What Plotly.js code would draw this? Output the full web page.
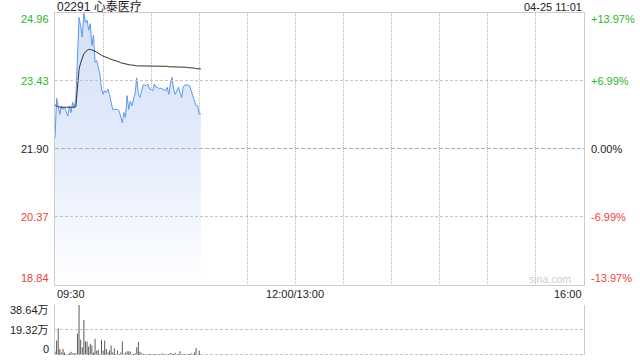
<!DOCTYPE html>
<html>
<head>
<meta charset="utf-8">
<script src="https://cdn.plot.ly/plotly-3.0.1.min.js"></script>
<style>
  html, body { margin: 0; padding: 0; background: #fff; }
  #chart { width: 640px; height: 360px; }
</style>
</head>
<body>
<div id="chart"></div>
<script>
// Intraday minute data for 02291 (09:30 onward), prices in HKD, volume in 万 shares
const stockTitle = '02291 心泰医疗';
const stamp = '04-25 11:01';
const preClose = 21.90;

const price = [
  22.15, 23.04, 22.87, 22.68, 22.87, 22.79, 22.83, 22.72, 22.64, 22.87,
  22.72, 22.95, 22.83, 23.02, 24.20, 24.86, 24.67, 24.42, 24.96, 24.74,
  24.80, 24.57, 24.72, 24.23, 24.46, 23.85, 23.89, 23.70, 23.59, 23.25,
  23.13, 23.21, 23.17, 23.25, 23.13, 22.95, 22.79, 22.79, 22.79, 22.79,
  22.76, 22.64, 22.49, 22.72, 22.61, 23.10, 22.79, 22.98, 22.87, 23.02,
  23.16, 23.50, 23.13, 23.06, 23.21, 23.34, 23.34, 23.32, 23.36, 23.25,
  23.25, 23.21, 23.36, 23.29, 23.29, 23.25, 23.27, 23.25, 23.23, 23.21,
  23.29, 23.13, 23.36, 23.51, 23.25, 23.13, 23.21, 23.29, 23.17, 23.06,
  23.30, 23.34, 23.34, 23.34, 23.32, 23.21, 23.13, 22.98, 22.87, 22.87,
  22.68, 22.70
];

const avgPrice = [
  22.89, 22.86, 22.85, 22.84, 22.84, 22.83, 22.83, 22.83, 22.83, 22.83,
  22.83, 22.83, 22.84, 22.85, 23.30, 23.69, 23.84, 23.96, 24.04, 24.09,
  24.12, 24.14, 24.14, 24.13, 24.12, 24.10, 24.08, 24.05, 24.03, 24.01,
  23.99, 23.98, 23.97, 23.95, 23.93, 23.92, 23.91, 23.90, 23.89, 23.88,
  23.86, 23.84, 23.83, 23.82, 23.81, 23.80, 23.80, 23.79, 23.79, 23.78,
  23.78, 23.77, 23.77, 23.77, 23.77, 23.77, 23.77, 23.77, 23.77, 23.77,
  23.77, 23.76, 23.76, 23.76, 23.76, 23.76, 23.76, 23.76, 23.76, 23.76,
  23.76, 23.75, 23.75, 23.75, 23.75, 23.75, 23.75, 23.74, 23.74, 23.74,
  23.74, 23.74, 23.74, 23.73, 23.73, 23.73, 23.73, 23.72, 23.71, 23.71,
  23.70, 23.70
];

const volume = [
  2.6, 11.3, 20.5, 4.7, 2.0, 4.7, 2.0, 0.8, 0.8, 1.3,
  2.6, 1.3, 1.3, 1.3, 16.6, 38.64, 11.8, 6.0, 27.0, 10.5,
  10.5, 6.6, 8.7, 7.4, 2.0, 12.6, 3.4, 4.0, 0.8, 11.8,
  3.4, 11.3, 4.7, 2.0, 3.4, 7.4, 2.0, 5.3, 0.8, 3.4,
  0.8, 2.0, 10.5, 0.8, 2.0, 2.9, 2.9, 2.6, 0.8, 0.8,
  1.3, 6.0, 10.0, 2.6, 1.3, 0.8, 0.4, 0.8, 0.4, 0.8,
  0.6, 0.8, 0.8, 0.6, 0.8, 0.8, 0.6, 1.3, 0.8, 0.8,
  0.6, 0.8, 1.3, 1.3, 0.8, 1.8, 0.8, 0.8, 2.9, 0.8,
  0.6, 0.8, 0.8, 0.8, 0.8, 1.3, 0.6, 2.0, 5.5, 0.8,
  3.4, 0.8
];

// Price axis ticks (left) and matching percent change labels (right)
const priceTicks = [24.96, 23.43, 21.90, 20.37, 18.84];
const pctLabels = ['+13.97%', '+6.99%', '0.00%', '-6.99%', '-13.97%'];
const volTicks = [38.64, 19.32, 0];
const volLabels = ['38.64万', '19.32万', '0'];
// Session timeline in minutes: 09:30–12:00 and 13:00–16:00 joined (330 min)
const timeTicks = [0, 150, 330];
const timeLabels = ['09:30', '12:00/13:00', '16:00'];

const minutes = price.map((_, i) => i);

const GREEN = '#2db52d', RED = '#f2403a', BLACK = '#222';
const FONT = 'Liberation Sans, Arial, Noto Sans CJK SC, sans-serif';
const GRID = '#b8b8b8';
const HGRID = '#c4c4c4';
const HDASH = '3px,2px';

const W = 640, H = 360;
// panel edges on whole pixels so every price level lands on a whole pixel
const xDom = [55 / W, 584 / W];
const yDom = [1 - 285 / H, 1 - 13 / H];
const y2Dom = [1 - 355 / H, 1 - 305 / H];

function tickColor(v) {
  if (v > preClose + 1e-9) return GREEN;
  if (v < preClose - 1e-9) return RED;
  return BLACK;
}

const traces = [
  {
    x: minutes, y: price, type: 'scatter', mode: 'lines',
    line: { color: '#5b97f2', width: 1 },
    fill: 'tozeroy',
    fillgradient: {
      type: 'vertical',
      start: priceTicks[4], stop: priceTicks[0],
      colorscale: [[0, 'rgba(255,255,255,1)'], [0.5, '#e4ecfb'], [1, '#d4e1f8']]
    },
    hoverinfo: 'skip'
  },
  {
    x: minutes, y: avgPrice, type: 'scatter', mode: 'lines',
    line: { color: '#333333', width: 1 }, hoverinfo: 'skip'
  },
  {
    x: minutes, y: volume, type: 'bar', xaxis: 'x2', yaxis: 'y2',
    marker: { color: '#555555', line: { width: 0 } }, width: 0.6, hoverinfo: 'skip'
  }
];

const annotations = [];
// title and timestamp
annotations.push({ xref: 'paper', yref: 'paper', x: 55 / W, y: 1 - 7 / H, xanchor: 'left', yanchor: 'middle',
  text: stockTitle, showarrow: false, font: { family: FONT, size: 12, color: '#222' } });
annotations.push({ xref: 'paper', yref: 'paper', x: 584 / W, y: 1 - 7 / H, xanchor: 'right', yanchor: 'middle',
  text: stamp, showarrow: false, font: { family: FONT, size: 11, color: '#222' } });

priceTicks.forEach((v, i) => {
  const shift = i === 0 ? -6 : (i === priceTicks.length - 1 ? 7 : 0);
  const c = tickColor(v);
  annotations.push({ xref: 'paper', yref: 'y', x: 51 / W, y: v, xanchor: 'right', yanchor: 'middle', yshift: shift,
    text: v.toFixed(2), showarrow: false, font: { family: FONT, size: 11, color: c } });
  annotations.push({ xref: 'paper', yref: 'y', x: 589 / W, y: v, xanchor: 'left', yanchor: 'middle', yshift: shift,
    text: pctLabels[i], showarrow: false, font: { family: FONT, size: 11, color: c } });
});

volTicks.forEach((v, i) => {
  const shift = i === 0 ? -5 : (i === volTicks.length - 1 ? 6 : 0);
  annotations.push({ xref: 'paper', yref: 'y2', x: 51 / W, y: v, xanchor: 'right', yanchor: 'middle', yshift: shift,
    text: volLabels[i], showarrow: false, font: { family: FONT, size: 11, color: '#222' } });
});

timeTicks.forEach((t, i) => {
  const anchor = i === 0 ? 'left' : (i === timeTicks.length - 1 ? 'right' : 'center');
  annotations.push({ xref: 'x', yref: 'paper', x: t, y: 1 - 294 / H, xanchor: anchor, yanchor: 'middle',
    text: timeLabels[i], showarrow: false, font: { family: FONT, size: 11, color: '#222' } });
});

annotations.push({ xref: 'paper', yref: 'paper', x: 573 / W, y: 1 - 279 / H, xanchor: 'right', yanchor: 'middle',
  text: 'sina.com', showarrow: false, font: { family: FONT, size: 10.5, color: '#cccccc' } });

// horizontal guides anchored at a level and nudged half a pixel so they sit on one pixel row
const hLine = (xref, yref, v, dash, color) => ({
  type: 'line', xref: xref, yref: yref, x0: 0, x1: 330,
  ysizemode: 'pixel', yanchor: v, y0: 0.5, y1: 0.5,
  line: { color: color, width: 1, dash: dash }
});
const shapes = [
  hLine('x', 'y', priceTicks[1], HDASH, HGRID),
  hLine('x', 'y', priceTicks[3], HDASH, HGRID),
  hLine('x', 'y', preClose, '4px,2px', '#b0b0b0')
].concat(volTicks.map(v => hLine('x2', 'y2', v, HDASH, HGRID)));

const layout = {
  width: W, height: H,
  margin: { l: 0, r: 0, t: 0, b: 0, pad: 0 },
  paper_bgcolor: '#ffffff', plot_bgcolor: '#ffffff',
  showlegend: false,
  xaxis: {
    domain: xDom, range: [0, 330], tick0: 0, dtick: 30,
    showgrid: true, gridcolor: GRID, griddash: '1px,1px', gridwidth: 1,
    showticklabels: false, ticks: '', zeroline: false,
    showline: true, mirror: true, linecolor: '#cccccc', linewidth: 1,
    fixedrange: true
  },
  yaxis: {
    domain: yDom, range: [priceTicks[4], priceTicks[0]],
    showgrid: false, showticklabels: false, ticks: '', zeroline: false,
    showline: true, mirror: true, linecolor: '#cccccc', linewidth: 1,
    fixedrange: true
  },
  xaxis2: {
    domain: xDom, range: [0, 330], anchor: 'y2',
    showgrid: false, showticklabels: false, ticks: '', zeroline: false, showline: false,
    fixedrange: true
  },
  yaxis2: {
    domain: y2Dom, range: [0, volTicks[0]], anchor: 'x2',
    showgrid: false, showticklabels: false, ticks: '', zeroline: false,
    showline: true, mirror: true, linecolor: '#cccccc', linewidth: 1,
    fixedrange: true
  },
  shapes: shapes,
  annotations: annotations
};

Plotly.newPlot('chart', traces, layout, { displayModeBar: false, staticPlot: true });
</script>
</body>
</html>
